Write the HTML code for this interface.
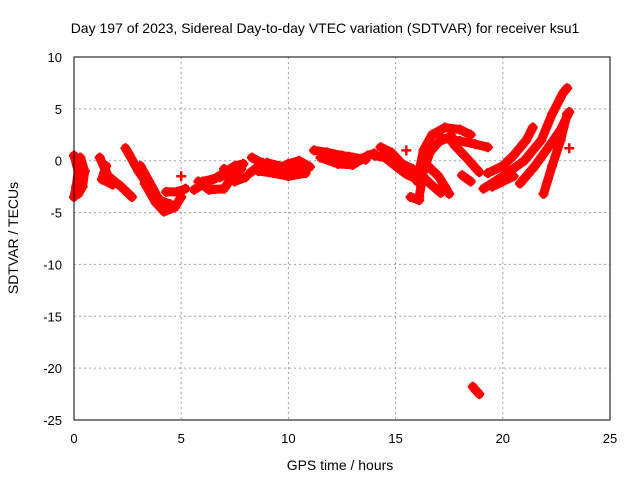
<!DOCTYPE html>
<html><head><meta charset="utf-8"><style>
body{margin:0;background:#fff}
svg text{font-family:"Liberation Sans",sans-serif;fill:#000}
</style></head><body>
<svg id="chart" width="640" height="480" xmlns="http://www.w3.org/2000/svg">
<text x="325" y="33" font-size="14" text-anchor="middle">Day 197 of 2023, Sidereal Day-to-day VTEC variation (SDTVAR) for receiver ksu1</text>
<g id="grid"></g>
<g id="ticks"></g>
<g id="marks"></g>
<rect x="74" y="57" width="536" height="363" fill="none" stroke="#000" stroke-width="1"/>
<text transform="translate(18,238) rotate(-90)" font-size="14" text-anchor="middle">SDTVAR / TECUs</text>
<text x="340" y="470" font-size="14" text-anchor="middle">GPS time / hours</text>
</svg>
<script>
const xTicks=[0,5,10,15,20,25];
const yTicks=[10,5,0,-5,-10,-15,-20,-25];
const trackHours=[
[0,0.2,0.1,0],
[0.3,0.5,0.4,0.2],
[1.2,1.6,2.2,2.7],
[1.5,1.3,1.8],
[2.4,2.6,3.0,3.5,4.0,4.5],
[3.1,3.5,3.9,4.3],
[3.3,3.8,4.2,4.7,5.0],
[4.3,4.8,5.2],
[5.0],
[5.6,6,6.5,7,7.5,7.9],
[5.8,6.3,7,7.5,7.8],
[7.0,7.5,8.0],
[8.3,9,9.5,10,10.5,11],
[8.6,9.3,10,10.8],
[8.2,8.8],
[11.2,11.8,12.5,13,13.6],
[11.5,12.3,13,13.7,14.0],
[14,14.5,15,15.5,16],
[14.3,14.8,15.3,15.8],
[15.5],
[15.7,16.1],
[16.0,16.3,16.7,17.3,18,18.5],
[16.1,16.3,16.6,17,17.6],
[16.5,17,17.3,17.5],
[16.1,16.6,17.1],
[17.1,18,18.7,19.3],
[17.7,18.3,18.9],
[18.1,18.5],
[19.1,20,21,21.8,22.3,22.8,23],
[19.3,20,20.5,21.1,21.4],
[20.8,21.5,22.2,22.7,23.1],
[21.9,22.3,22.7,23],
[19.5,20,20.5],
[23.1],
[18.6,18.9],
[6.0,6.8,7.4],
[9.0,9.8,10.6],
[12.0,12.8,13.4]
];
const trackValues=[
[0.5,-1,-2.5,-3.5],
[0.3,-1,-2.5,-3.2],
[0.3,-1.5,-2.5,-3.5],
[-0.5,-1.8,-2.3],
[1.2,0.5,-1.0,-2.5,-3.8,-4.2],
[-0.5,-2,-3.5,-4.8],
[-2.2,-4,-4.9,-4.5,-3.5],
[-3,-3,-2.7],
[-1.5],
[-2.8,-2.3,-1.8,-1.2,-0.5,-0.3],
[-2,-2.8,-2.7,-1.2,-0.8],
[-0.8,-2,-1.6],
[0.3,-0.5,-0.8,-0.3,0,-0.6],
[-1,-1.2,-1.5,-1.2],
[-1.2,-0.2],
[1,0.8,0.5,0.3,0.1],
[0.3,-0.3,-0.4,0.5,0.7],
[0.5,0.3,-0.5,-1.3,-1.8],
[1.3,0.8,-0.3,-0.8],
[1.0],
[-3.5,-3.8],
[-2,1,2.5,3.2,3.0,2.5],
[-3.5,-1,0.8,1.8,2.4],
[-0.5,-1.5,-2.5,-3.2],
[-1.2,-2.2,-3.1],
[2.2,1.9,1.6,1.3],
[1.6,0.3,-1.1],
[-1.4,-2],
[-2.7,-1.5,0,2,4.5,6.5,7],
[-1.2,-0.5,0.5,2,3.2],
[-2.2,-0.5,1.5,3,4.7],
[-3.2,-0.5,2,4.5],
[-2.5,-2,-1.5],
[1.2],
[-21.8,-22.5],
[-2.0,-1.6,-1.0],
[-0.2,-0.6,-0.9],
[0.6,0.4,0.2]
];
const X=h=>74+h*536/25;
const Y=v=>57+(10-v)*363/35;
const NS="http://www.w3.org/2000/svg";
const grid=document.getElementById('grid'),ticks=document.getElementById('ticks'),marks=document.getElementById('marks');
function mk(tag,attrs,parent){const e=document.createElementNS(NS,tag);for(const k in attrs)e.setAttribute(k,attrs[k]);parent.appendChild(e);return e;}
xTicks.forEach(t=>{
 if(t>0&&t<25){const g=mk('line',{x1:X(t),x2:X(t),y1:57,y2:420,stroke:'#a0a0a0','stroke-dasharray':'2,3'},grid);
 
 }
 const l=mk('text',{x:X(t),y:443,'font-size':13,'text-anchor':'middle'},ticks);l.textContent=t;
 
 
});
yTicks.forEach(t=>{
 if(t<10&&t>-25){const g=mk('line',{x1:74,x2:610,y1:Y(t),y2:Y(t),stroke:'#a0a0a0','stroke-dasharray':'2,3'},grid);
 
 }
 const l=mk('text',{x:62,y:Y(t)+5,'font-size':13,'text-anchor':'end'},ticks);l.textContent=t;
 
 
});
trackHours.forEach((hs,i)=>{
 const vs=trackValues[i];
 const pts=hs.map((h,j)=>X(h)+','+Y(vs[j])).join(' ');
 if(hs.length>1){const p=mk('polyline',{points:pts,fill:'none',stroke:'#ff0000','stroke-width':9,'stroke-linejoin':'round','stroke-linecap':'round'},marks);
 
 }
 hs.forEach((h,j)=>{
  const x=X(h),y=Y(vs[j]);
  const m=mk('path',{d:`M${x-5},${y}H${x+5}M${x},${y-5}V${y+5}`,stroke:'#ff0000','stroke-width':2.5},marks);
  
  
 });
});
</script>
</body></html>
